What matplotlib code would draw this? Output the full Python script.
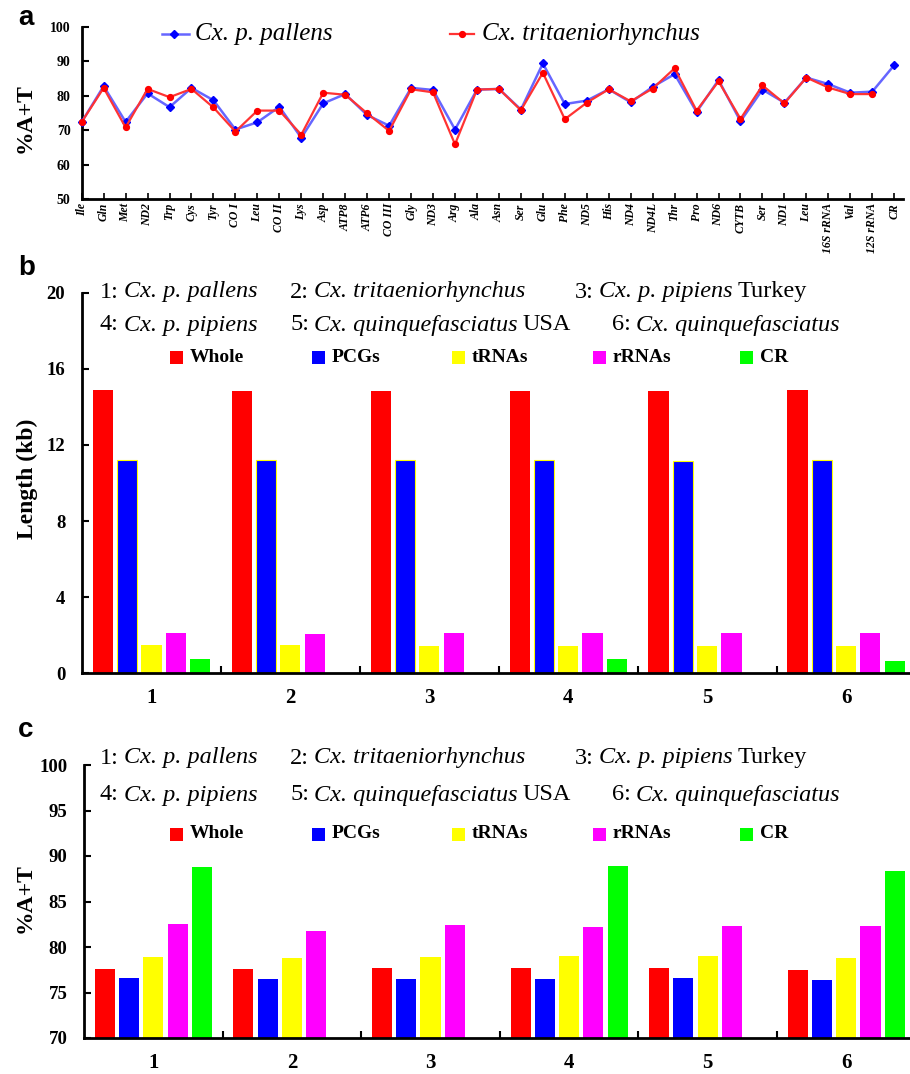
import matplotlib
matplotlib.use('Agg')
import matplotlib.pyplot as plt
from matplotlib.patches import Rectangle
from matplotlib.lines import Line2D
import numpy as np

# ---------------- data ----------------
genes = ['Ile', 'Gln', 'Met', 'ND2', 'Trp', 'Cys', 'Tyr', 'CO I', 'Leu', 'CO II',
         'Lys', 'Asp', 'ATP8', 'ATP6', 'CO III', 'Gly', 'ND3', 'Arg', 'Ala', 'Asn',
         'Ser', 'Glu', 'Phe', 'ND5', 'His', 'ND4', 'ND4L', 'Thr', 'Pro', 'ND6',
         'CYTB', 'Ser', 'ND1', 'Leu', '16S rRNA', 'Val', '12S rRNA', 'CR']
at_pallens = [72.4, 82.8, 72.4, 80.7, 76.7, 82.3, 78.7, 70.2, 72.3, 76.8,
              67.8, 77.8, 80.5, 74.4, 71.3, 82.3, 81.7, 70.2, 81.8, 82.0,
              76.0, 89.4, 77.6, 78.6, 81.9, 78.1, 82.6, 86.3, 75.3, 84.6,
              72.6, 81.8, 78.0, 85.3, 83.4, 80.9, 81.2, 88.9]
at_trit = [72.4, 82.3, 70.8, 82.0, 79.6, 82.0, 76.6, 69.6, 75.7, 75.7,
           68.7, 80.9, 80.3, 74.9, 69.8, 81.9, 81.0, 65.9, 81.8, 82.0,
           75.8, 86.7, 73.2, 78.0, 81.9, 78.4, 82.1, 88.0, 75.7, 84.2,
           73.3, 83.0, 77.8, 85.3, 82.4, 80.5, 80.5]

groups = ['1', '2', '3', '4', '5', '6']
regions = ['Whole', 'PCGs', 'tRNAs', 'rRNAs', 'CR']
region_colors = ['#ff0000', '#0000ff', '#ffff00', '#ff00ff', '#00ff00']

len_whole = [14.90, 14.85, 14.85, 14.86, 14.86, 14.90]
len_pcgs = [11.20, 11.20, 11.20, 11.20, 11.15, 11.22]
len_trnas = [1.48, 1.48, 1.42, 1.42, 1.42, 1.42]
len_rrnas = [2.12, 2.07, 2.12, 2.12, 2.12, 2.12]
len_cr = [0.72, None, None, 0.72, None, 0.62]

at_whole = [77.55, 77.55, 77.66, 77.66, 77.66, 77.44]
at_pcgs = [76.56, 76.45, 76.45, 76.45, 76.60, 76.38]
at_trnas = [78.87, 78.76, 78.87, 79.06, 79.06, 78.76]
at_rrnas = [82.54, 81.80, 82.40, 82.20, 82.30, 82.30]
at_cr = [88.74, None, None, 88.85, None, 88.40]

species = [('1:', 'Cx. p. pallens', ''), ('2:', 'Cx. tritaeniorhynchus', ''),
           ('3:', 'Cx. p. pipiens', 'Turkey'), ('4:', 'Cx. p. pipiens', ''),
           ('5:', 'Cx. quinquefasciatus', 'USA'), ('6:', 'Cx. quinquefasciatus', '')]

# ---------------- style ----------------
SERIF = 'Liberation Serif'
plt.rcParams['font.family'] = [SERIF, 'DejaVu Serif']

W, H = 910, 1074
fig = plt.figure(figsize=(W / 100, H / 100), dpi=100)
renderer = fig.canvas.get_renderer()


def fx(px):
    return px / W


def fy(py):
    return 1 - py / H


def style_axes(ax, lw=2.0):
    for s in ['top', 'right']:
        ax.spines[s].set_visible(False)
    for s in ['left', 'bottom']:
        ax.spines[s].set_linewidth(lw)


def rich_text(x_px, y_px, parts, size):
    """parts: list of (text, style); drawn left to right with a space between."""
    cur = x_px
    space = size * 1.389 * 0.2
    for txt, style in parts:
        if not txt:
            continue
        t = fig.text(fx(cur), fy(y_px), txt, fontsize=size, fontstyle=style,
                     va='center', ha='left')
        bb = t.get_window_extent(renderer)
        cur = cur + bb.width + space


# ---------------- panel a ----------------
axA = fig.add_axes([fx(81.7), fy(199), fx(903) - fx(81.7), (199 - 27) / H])
x = np.arange(len(genes))
axA.plot(x, at_pallens, color=(0.4, 0.4, 1.0), lw=1.8, marker='D', ms=4.5,
         mfc='#0000ff', mec='#0000ff', zorder=3, clip_on=False)
axA.plot(x[:len(at_trit)], at_trit, color=(1.0, 0.2, 0.2), lw=1.6, marker='o', ms=4.2,
         mfc='#ff0000', mec='#ff0000', zorder=4, clip_on=False)
axA.set_xlim(0, 37.4)
axA.set_ylim(50, 100)
axA.set_yticks(np.arange(50, 101, 10))
axA.set_xticks(x)
axA.set_xticklabels(genes, rotation=90, fontsize=8.5, fontstyle='italic', fontweight='bold')
style_axes(axA)
axA.tick_params(axis='y', direction='in', length=5, width=1.5, pad=8, labelsize=10)
for t in axA.get_yticklabels():
    t.set_fontweight('bold')
axA.tick_params(axis='x', direction='in', length=4, width=1.2, pad=3)

fig.text(fx(25), fy(118), '%A+T', rotation=90, ha='center', va='center',
         fontsize=17, fontweight='bold')
fig.text(fx(18), fy(18), 'a', fontsize=20, fontweight='bold', family='Liberation Sans',
         ha='left', va='center')

# legend for panel a
fig.add_artist(Line2D([fx(162), fx(189)], [fy(34), fy(34)], color=(0.4, 0.4, 1.0), lw=1.8))
fig.add_artist(Line2D([fx(174)], [fy(34)], marker='D', ms=4.5, color='#0000ff', lw=0))
fig.text(fx(195), fy(34), 'Cx. p. pallens', fontsize=18, fontstyle='italic', va='center')
fig.add_artist(Line2D([fx(450), fx(474)], [fy(34), fy(34)], color=(1.0, 0.2, 0.2), lw=1.6))
fig.add_artist(Line2D([fx(462)], [fy(34)], marker='o', ms=4.2, color='#ff0000', lw=0))
fig.text(fx(482), fy(34), 'Cx. tritaeniorhynchus', fontsize=18, fontstyle='italic', va='center')


# ---------------- bar panels ----------------
def bar_panel(rect, series, ylim, yticks, edge_blue, text_y, legend_y):
    ax = fig.add_axes(rect)
    gx = np.arange(1, len(groups) + 1)
    offs = (np.arange(len(regions)) - 2) * 0.175
    for i, vals in enumerate(series):
        xs = [g + offs[i] for g, v in zip(gx, vals) if v is not None]
        hs = [v for v in vals if v is not None]
        ec = 'none'
        lw = 0
        if i == 1 and edge_blue:
            ec, lw = '#ffff00', 0.8
        ax.bar(xs, hs, width=0.145, color=region_colors[i], edgecolor=ec, linewidth=lw, zorder=2)
    ax.set_xlim(0.5, 6.46)
    ax.set_ylim(*ylim)
    ax.set_yticks(yticks)
    ax.set_xticks(gx)
    ax.set_xticklabels(groups, fontsize=15, fontweight='bold')
    ax.set_xticks(np.arange(1.5, 6.5, 1.0), minor=True)
    style_axes(ax)
    ax.tick_params(axis='x', which='major', length=0, pad=11)
    ax.tick_params(axis='x', which='minor', direction='in', length=5, width=1.5)
    ax.tick_params(axis='y', direction='in', length=5, width=1.5, pad=12, labelsize=13.5)
    for t in ax.get_yticklabels():
        t.set_fontweight('bold')
    # species key
    xs_pos = [100, 290, 575, 100, 290, 612]
    for k, (pre, it, post) in enumerate(species):
        row = 0 if k < 3 else 1
        rich_text(xs_pos[k], text_y[row], [(pre, 'normal'), (it, 'italic'), (post, 'normal')], 17.5)
    # color key
    sq_x = [170, 312, 452, 593, 740]
    for i, name in enumerate(regions):
        fig.add_artist(Rectangle((fx(sq_x[i]), fy(legend_y + 6.5)), 13 / W, 13 / H,
                                 facecolor=region_colors[i], edgecolor='none',
                                 transform=fig.transFigure))
        fig.text(fx(sq_x[i] + 20), fy(legend_y), name, fontsize=14, fontweight='bold',
                 va='center', ha='left')
    return ax


axB = bar_panel([fx(82), fy(673), 1 - fx(82), (673 - 293) / H],
                [len_whole, len_pcgs, len_trnas, len_rrnas, len_cr],
                (0, 20), [0, 4, 8, 12, 16, 20], True, [292, 325], 357)
fig.text(fx(27), fy(479), 'Length (kb)', rotation=90, ha='center', va='center',
         fontsize=17, fontweight='bold')
fig.text(fx(18), fy(268), 'b', fontsize=20, fontweight='bold', family='Liberation Sans',
         ha='left', va='center')

axC = bar_panel([fx(84), fy(1038), 1 - fx(84), (1038 - 765) / H],
                [at_whole, at_pcgs, at_trnas, at_rrnas, at_cr],
                (70, 100), [70, 75, 80, 85, 90, 95, 100], False, [758, 795], 834)
fig.text(fx(25), fy(898), '%A+T', rotation=90, ha='center', va='center',
         fontsize=17, fontweight='bold')
fig.text(fx(18), fy(730), 'c', fontsize=20, fontweight='bold', family='Liberation Sans',
         ha='left', va='center')

fig.savefig('out.png', dpi=100)
